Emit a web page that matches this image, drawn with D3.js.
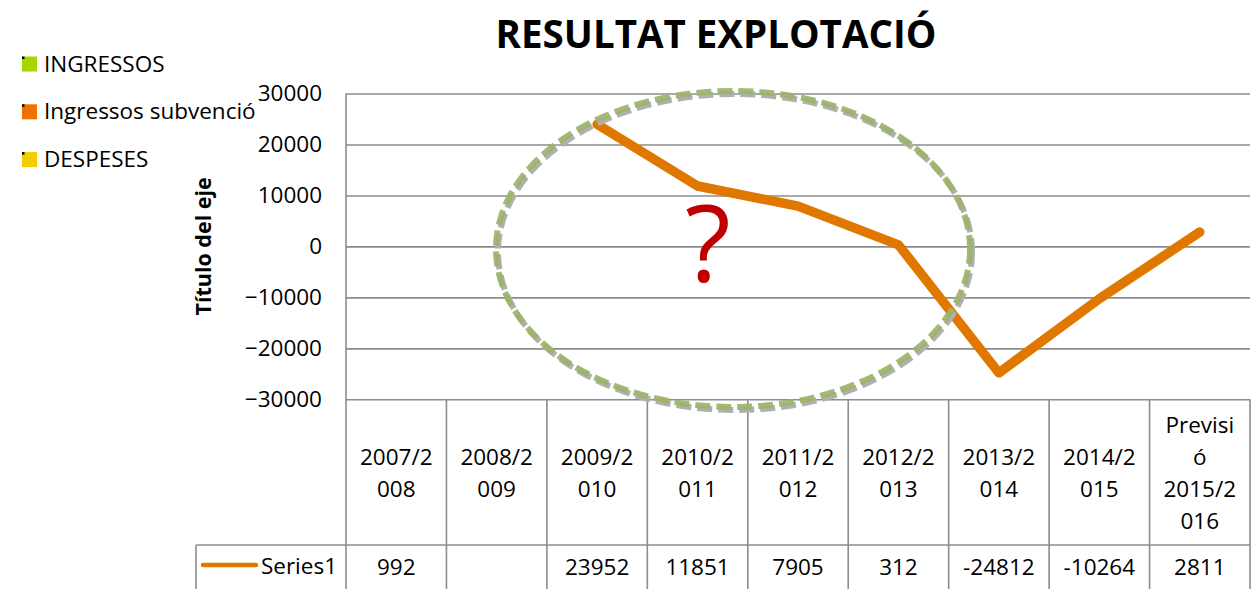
<!DOCTYPE html>
<html>
<head>
<meta charset="utf-8">
<script src="https://cdn.jsdelivr.net/npm/d3@7"></script>
<style>
  body { margin: 0; background: #fff; }
  svg { display: block; font-family: "Open Sans", sans-serif; }
</style>
</head>
<body>
<svg id="chart" width="1255" height="589"></svg>
<script>
// chart data
const categories = ["2007/2008", "2008/2009", "2009/2010", "2010/2011", "2011/2012",
  "2012/2013", "2013/2014", "2014/2015", "Previsió 2015/2016"];
const categoryLines = [["2007/2", "008"], ["2008/2", "009"], ["2009/2", "010"], ["2010/2", "011"],
  ["2011/2", "012"], ["2012/2", "013"], ["2013/2", "014"], ["2014/2", "015"],
  ["Previsi", "ó", "2015/2", "016"]];
const series1 = [992, null, 23952, 11851, 7905, 312, -24812, -10264, 2811];
const yTicks = [-30000, -20000, -10000, 0, 10000, 20000, 30000];
const legendNames = ["INGRESSOS", "Ingressos subvenció", "DESPESES"];
const legendColors = ["#a8d400", "#f07000", "#f5cc00"];

const svg = d3.select("#chart");
const lineColor = "#e07800";
const gridColor = "#8c8c8c";
const fs = 22.5;

// Set up the scales
const plotLeft = 346, plotRight = 1250, plotTop = 93.5, plotBottom = 399.3;
const x = d3.scaleBand().domain(categories).range([plotLeft, plotRight]).padding(0);
const y = d3.scaleLinear().domain([-30000, 30000]).range([plotBottom, plotTop]);

// title
svg.append("text")
  .attr("x", 716).attr("y", 48)
  .attr("text-anchor", "middle")
  .attr("font-size", 38.5).attr("font-weight", "bold")
  .attr("fill", "#000")
  .text("RESULTAT EXPLOTACIÓ");

// legend (the three series that were left empty)
legendNames.forEach((name, i) => {
  const cy = 63.5 + i * 47.8;
  svg.append("rect").attr("x", 22).attr("y", cy - 7).attr("width", 15).attr("height", 15)
    .attr("fill", legendColors[i]);
  svg.append("rect").attr("x", 22).attr("y", cy - 7).attr("width", 2.5).attr("height", 2.5)
    .attr("fill", "#000");
  svg.append("text").attr("x", 44).attr("y", cy + 8)
    .attr("font-size", fs).attr("fill", "#000").text(name);
});

// y axis with gridlines
const yAxis = svg.append("g")
  .attr("transform", `translate(${plotLeft},0)`)
  .call(d3.axisLeft(y).tickValues(yTicks).tickFormat(d3.format("d"))
    .tickSizeInner(-(plotRight - plotLeft)).tickSizeOuter(0).tickPadding(24));
yAxis.select(".domain").remove();
yAxis.selectAll(".tick line").attr("stroke", gridColor).attr("stroke-width", 1.6);
yAxis.selectAll(".tick text")
  .attr("font-size", fs).attr("fill", "#000")
  .attr("font-family", "'Open Sans', sans-serif");

// axis line
svg.append("line").attr("x1", plotLeft).attr("x2", plotLeft).attr("y1", plotTop).attr("y2", 589)
  .attr("stroke", gridColor).attr("stroke-width", 1.6);

// axis title
svg.append("text")
  .attr("transform", `translate(211,${(plotTop + plotBottom) / 2}) rotate(-90)`)
  .attr("text-anchor", "middle")
  .attr("font-size", 21.5).attr("font-weight", "bold").attr("fill", "#000")
  .text("Título del eje");

// data table
const rowTop = plotBottom, rowMid = 545;
const table = svg.append("g");
categories.forEach((c) => {
  table.append("line").attr("x1", x(c) + x.bandwidth()).attr("x2", x(c) + x.bandwidth())
    .attr("y1", rowTop).attr("y2", 589)
    .attr("stroke", gridColor).attr("stroke-width", 1.6);
});
table.append("line").attr("x1", 196).attr("x2", plotRight).attr("y1", rowMid).attr("y2", rowMid)
  .attr("stroke", gridColor).attr("stroke-width", 1.6);
table.append("line").attr("x1", 196).attr("x2", 196).attr("y1", rowMid).attr("y2", 589)
  .attr("stroke", gridColor).attr("stroke-width", 1.6);

categories.forEach((c, i) => {
  const lines = categoryLines[i];
  const t = table.append("text").attr("text-anchor", "middle")
    .attr("font-size", fs).attr("fill", "#000");
  lines.forEach((l, j) => {
    t.append("tspan").attr("x", x(c) + x.bandwidth() / 2)
      .attr("y", 481 + (j - (lines.length - 1) / 2) * 32)
      .text(l);
  });
  table.append("text").attr("text-anchor", "middle")
    .attr("x", x(c) + x.bandwidth() / 2).attr("y", 575)
    .attr("font-size", fs).attr("fill", "#000")
    .text(series1[i] == null ? "" : series1[i]);
});

// series key in table
table.append("line").attr("x1", 203).attr("x2", 256).attr("y1", 565).attr("y2", 565)
  .attr("stroke", lineColor).attr("stroke-width", 4.5).attr("stroke-linecap", "round");
table.append("text").attr("x", 337).attr("y", 574).attr("text-anchor", "end")
  .attr("font-size", fs).attr("fill", "#000").text("Series1");

// line (a lone point between gaps has no marker, so it is not drawn)
const pts = categories.map((c, i) => ({ c: c, v: series1[i], i: i }));
const hasValue = (i) => i >= 0 && i < series1.length && series1[i] != null;
const line = d3.line()
  .defined(d => hasValue(d.i) && (hasValue(d.i - 1) || hasValue(d.i + 1)))
  .x(d => x(d.c) + x.bandwidth() / 2)
  .y(d => y(d.v));
svg.append("path")
  .attr("d", line(pts))
  .attr("fill", "none")
  .attr("stroke", lineColor).attr("stroke-width", 9.5)
  .attr("stroke-linejoin", "round").attr("stroke-linecap", "round");

// question mark
svg.append("text")
  .attr("x", 708).attr("y", 282)
  .attr("text-anchor", "middle")
  .attr("font-size", 106).attr("fill", "#c00000")
  .text("?");

// dashed ellipse with shadow
const ecx = 733, ecy = 249, erx = 237, ery = 158;
svg.append("ellipse").attr("cx", ecx + 2).attr("cy", ecy + 3).attr("rx", erx).attr("ry", ery)
  .attr("fill", "none").attr("stroke", "#b0b0b0").attr("stroke-width", 6)
  .attr("stroke-dasharray", "15 6");
svg.append("ellipse").attr("cx", ecx).attr("cy", ecy).attr("rx", erx).attr("ry", ery)
  .attr("fill", "none").attr("stroke", "#9db36b").attr("stroke-width", 6)
  .attr("stroke-opacity", 0.92)
  .attr("stroke-dasharray", "15 6");
</script>
</body>
</html>
